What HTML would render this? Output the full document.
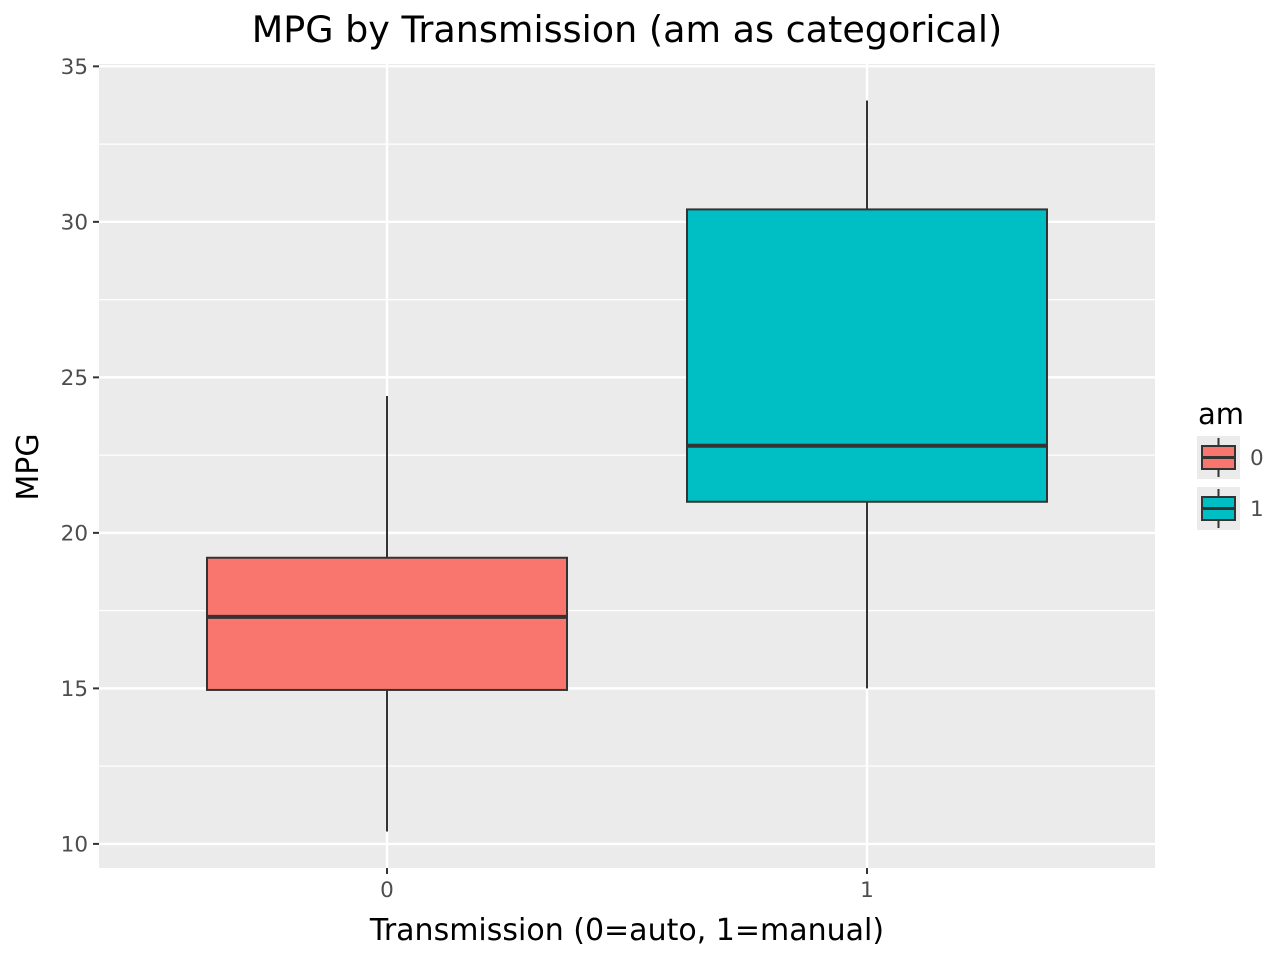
<!DOCTYPE html>
<html><head><meta charset="utf-8"><style>
body{margin:0;background:#fff;}
svg{display:block;font-family:"DejaVu Sans","Liberation Sans",sans-serif;}
</style></head><body>
<svg id="chart" width="1280" height="960" xmlns="http://www.w3.org/2000/svg">
<rect width="1280" height="960" fill="#fff"/>
<g id="panel"></g>
<g id="axes"></g>
<text x="627" y="42" font-size="36.5" text-anchor="middle" fill="#000">MPG by Transmission (am as categorical)</text>
<text x="627" y="940" font-size="30" text-anchor="middle" fill="#000">Transmission (0=auto, 1=manual)</text>
<text transform="translate(38,467) rotate(-90)" font-size="30" text-anchor="middle" fill="#000">MPG</text>
<g id="legend"></g>
</svg>
<script>
const categories=["0","1"];
const lowerWhisker=[10.4,15.0];
const q1=[14.95,21.0];
const medians=[17.3,22.8];
const q3=[19.2,30.4];
const upperWhisker=[24.4,33.9];
const fills=["#F8766D","#00BFC4"];
const yTicks=[10,15,20,25,30,35];

const NS="http://www.w3.org/2000/svg";
const PX0=99,PX1=1155,PY0=64,PY1=868;
const yMin=9.225,yMax=35.075;
function yScale(v){return PY1-(v-yMin)/(yMax-yMin)*(PY1-PY0);}
const xUnit=(PX1-PX0)/(categories.length-1+1.2);
function xScale(i){return PX0+(i+0.6)*xUnit;}
function mk(tag,attrs,parent){const e=document.createElementNS(NS,tag);for(const k in attrs)e.setAttribute(k,attrs[k]);parent.appendChild(e);return e;}
const panel=document.getElementById('panel');
const axes=document.getElementById('axes');
const bg=mk('rect',{x:PX0,y:PY0,width:PX1-PX0,height:PY1-PY0,fill:'#EBEBEB'},panel);


for(let i=0;i<yTicks.length-1;i++){
  const m=(yTicks[i]+yTicks[i+1])/2;
  const l=mk('line',{x1:PX0,x2:PX1,y1:yScale(m),y2:yScale(m),stroke:'#fff','stroke-width':1.2},panel);
  
  
}
yTicks.forEach(t=>{
  const y=yScale(t);
  const l=mk('line',{x1:PX0,x2:PX1,y1:y,y2:y,stroke:'#fff','stroke-width':2.4},panel);
  
  
  const tk=mk('line',{x1:PX0-6,x2:PX0,y1:y,y2:y,stroke:'#333','stroke-width':2},axes);
  
  
  const tx=mk('text',{x:PX0-11,y:y+7.5,'font-size':21.5,'text-anchor':'end',fill:'#4D4D4D'},axes);
  tx.textContent=t;
  
  
});
categories.forEach((c,i)=>{
  const x=xScale(i);
  const l=mk('line',{x1:x,x2:x,y1:PY0,y2:PY1,stroke:'#fff','stroke-width':2.4},panel);
  
  
  const tk=mk('line',{x1:x,x2:x,y1:PY1,y2:PY1+6,stroke:'#333','stroke-width':2},axes);
  
  
  const tx=mk('text',{x:x,y:PY1+29,'font-size':21.5,'text-anchor':'middle',fill:'#4D4D4D'},axes);
  tx.textContent=c;
  
  
});
categories.forEach((c,i)=>{
  const x=xScale(i),hw=0.375*xUnit;
  const g=mk('g',{},panel);
  
  
  const w1=mk('line',{x1:x,x2:x,y1:yScale(upperWhisker[i]),y2:yScale(q3[i]),stroke:'#333','stroke-width':2},g);
  
  
  const w2=mk('line',{x1:x,x2:x,y1:yScale(q1[i]),y2:yScale(lowerWhisker[i]),stroke:'#333','stroke-width':2},g);
  
  
  const r=mk('rect',{x:x-hw,y:yScale(q3[i]),width:2*hw,height:yScale(q1[i])-yScale(q3[i]),fill:fills[i],stroke:'#333','stroke-width':2},g);
  
  
  const m=mk('line',{x1:x-hw,x2:x+hw,y1:yScale(medians[i]),y2:yScale(medians[i]),stroke:'#333','stroke-width':4},g);
  
  
});
const leg=document.getElementById('legend');
const lt=mk('text',{x:1198,y:424,'font-size':29,fill:'#000'},leg);
lt.textContent='am';


categories.forEach((c,i)=>{
  const y0=436+i*51;
  const g=mk('g',{},leg);
  
  
  mk('rect',{x:1197,y:y0,width:43,height:43,fill:'#EBEBEB'},g);
  mk('line',{x1:1218.5,x2:1218.5,y1:y0+2,y2:y0+41,stroke:'#333','stroke-width':2},g);
  mk('rect',{x:1202,y:y0+10,width:33,height:23,fill:fills[i],stroke:'#333','stroke-width':2},g);
  mk('line',{x1:1202,x2:1235,y1:y0+21.5,y2:y0+21.5,stroke:'#333','stroke-width':3},g);
  const t=mk('text',{x:1250,y:y0+29,'font-size':21.5,fill:'#4D4D4D'},g);
  t.textContent=c;
  
  
});
</script>
</body></html>
